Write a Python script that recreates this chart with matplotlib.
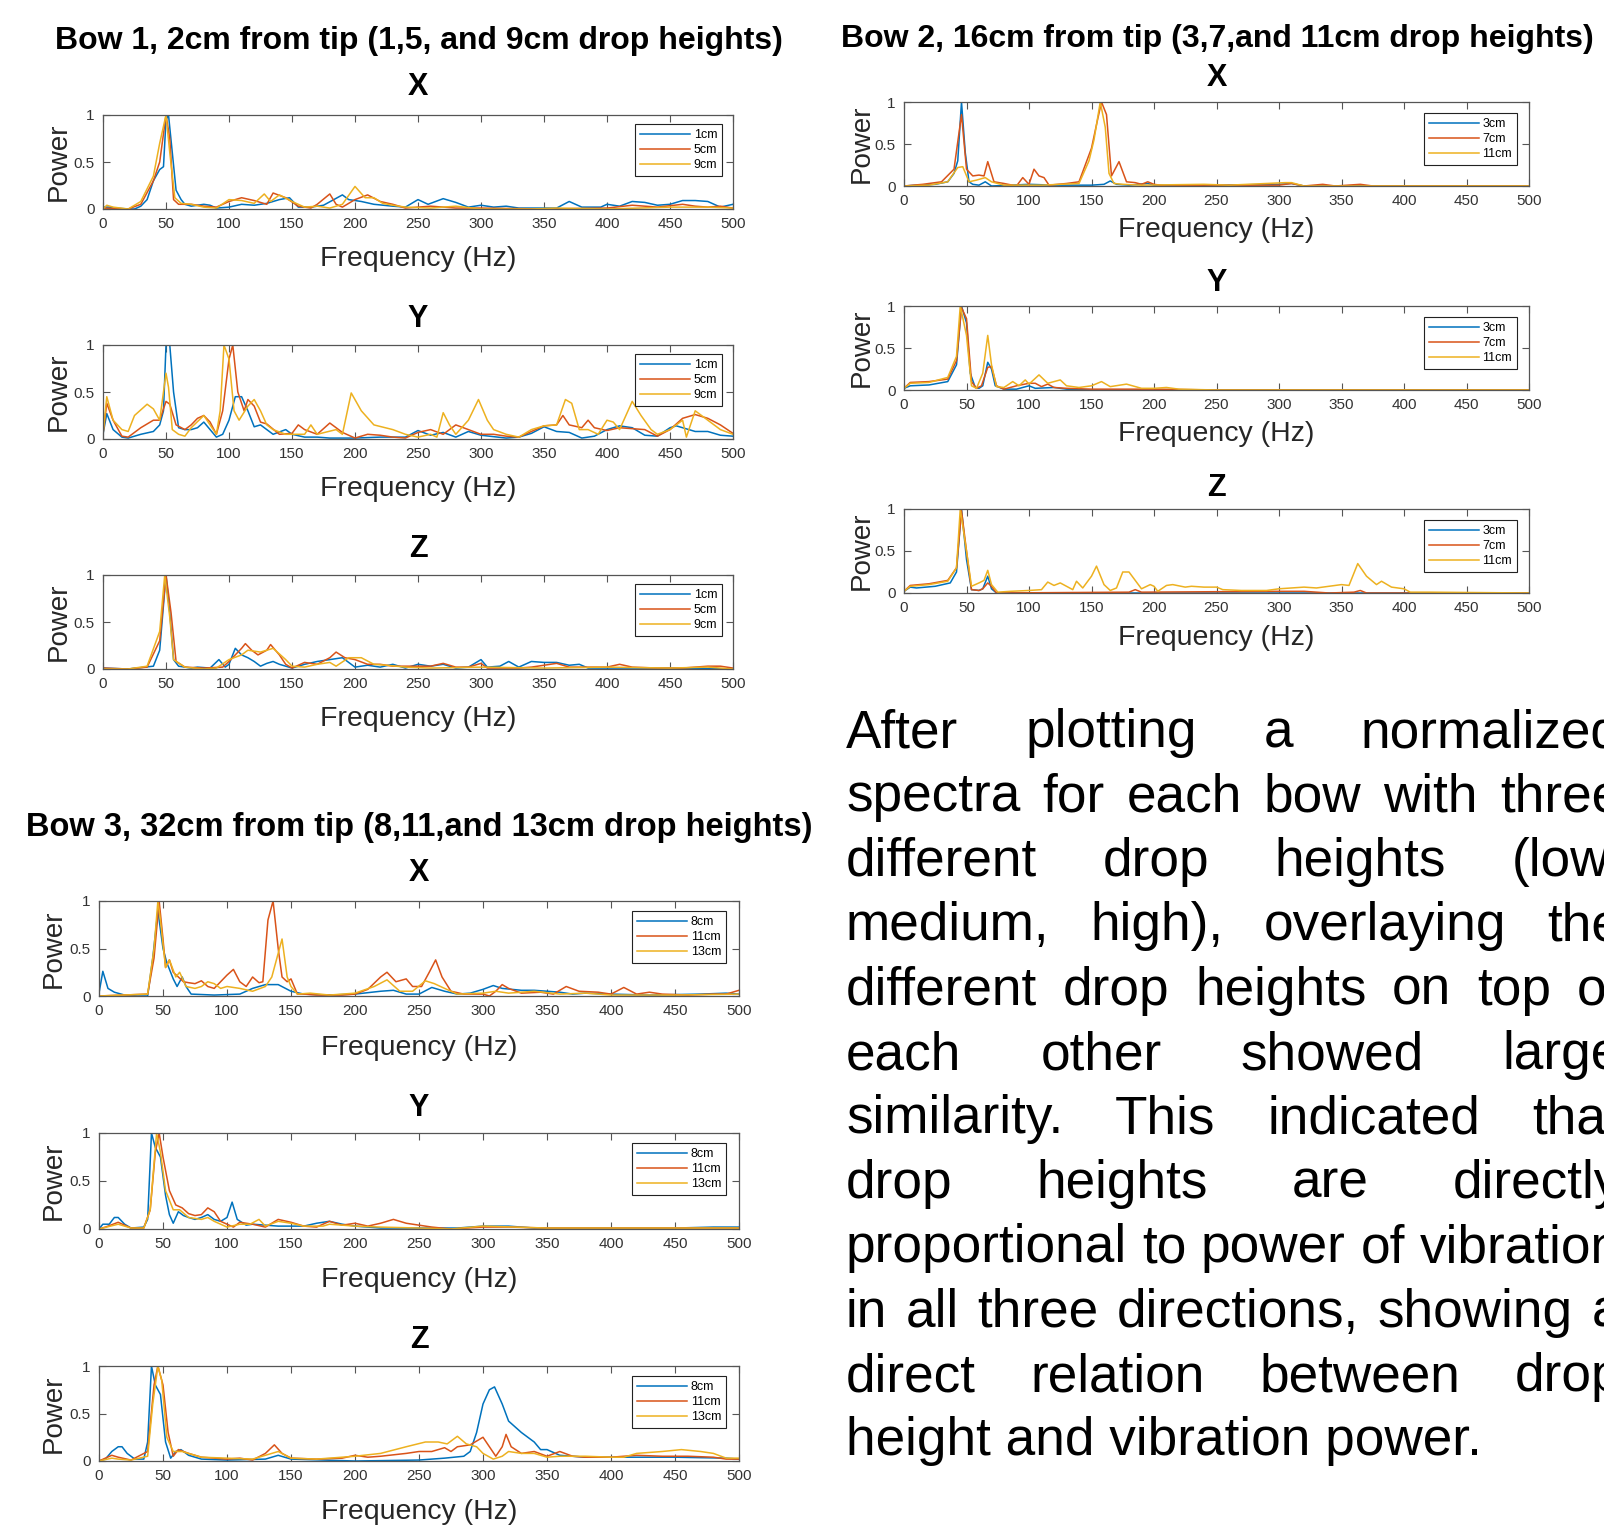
import numpy as np
import matplotlib
matplotlib.use("Agg")
import matplotlib.pyplot as plt

# ---- data: (frequency Hz, normalized power) ----
# Bow 1, 2cm from tip
b1x_1cm = [(0,.02),(5,.02),(10,.01),(20,0),(25,0),(30,.03),(35,.1),(40,.3),(45,.42),(48,.45),(50,.95),(52,1.0),(55,.6),(58,.2),(62,.1),(65,.05),(70,.03),(80,.05),(85,.04),(90,.01),(100,.02),(110,.05),(120,.04),(130,.06),(140,.1),(148,.12),(155,.02),(165,.02),(175,.04),(190,.15),(195,.1),(205,.08),(215,.05),(230,.03),(240,.02),(250,.1),(258,.05),(270,.11),(280,.07),(290,.02),(300,.04),(310,.02),(320,.03),(330,.01),(360,.01),(370,.08),(380,.02),(395,.02),(400,.05),(410,.03),(420,.08),(430,.07),(440,.04),(450,.05),(460,.09),(470,.09),(480,.08),(490,.02),(500,.05)]
b1x_5cm = [(0,.01),(20,0),(30,.05),(40,.3),(45,.5),(48,.8),(50,1.0),(53,.75),(56,.1),(60,.05),(70,.05),(80,.03),(90,.02),(100,.08),(110,.12),(120,.09),(130,.05),(135,.17),(145,.12),(155,.03),(165,.01),(170,.05),(180,.16),(185,.05),(190,.02),(200,.1),(210,.15),(220,.08),(230,.05),(240,.01),(260,.03),(280,.01),(300,.01),(350,0),(400,.01),(420,.04),(440,.02),(460,.05),(470,.03),(480,.02),(490,.03),(500,.01)]
b1x_9cm = [(0,0),(3,.04),(8,.02),(20,0),(30,.08),(40,.35),(45,.7),(50,1.0),(53,.6),(57,.12),(62,.06),(70,.05),(80,.02),(90,.01),(100,.1),(110,.09),(120,.06),(128,.16),(133,.08),(140,.15),(150,.08),(160,.02),(170,.03),(180,.01),(190,.05),(200,.24),(208,.12),(215,.12),(222,.06),(230,.04),(240,.02),(260,.01),(280,.03),(300,0),(340,0),(360,.01),(400,0),(450,.02),(480,.02),(500,.01)]

b1y_1cm = [(0,.05),(3,.27),(8,.1),(15,.02),(20,.01),(30,.05),(40,.08),(45,.15),(48,.3),(50,1.0),(53,1.0),(56,.5),(60,.12),(65,.1),(70,.1),(75,.12),(80,.18),(85,.1),(90,.02),(95,.05),(100,.2),(105,.45),(110,.45),(115,.3),(120,.13),(125,.15),(130,.1),(135,.05),(145,.1),(150,.05),(160,.02),(170,.02),(180,.01),(200,.01),(220,.02),(240,.02),(250,.09),(260,.04),(270,.07),(280,.02),(290,.08),(300,.04),(320,.01),(330,.02),(340,.06),(350,.13),(360,.08),(370,.07),(380,.01),(390,.03),(400,.1),(410,.14),(420,.12),(430,.04),(440,.03),(450,.12),(455,.14),(470,.08),(480,.08),(490,.04),(500,.03)]
b1y_5cm = [(0,.05),(3,.38),(8,.2),(15,.03),(20,.02),(30,.12),(40,.2),(45,.2),(50,.4),(53,.37),(58,.15),(65,.1),(70,.15),(75,.22),(80,.25),(85,.18),(90,.05),(95,.3),(100,.85),(103,1.0),(107,.5),(112,.3),(115,.42),(120,.35),(125,.18),(130,.16),(140,.05),(150,.06),(155,.15),(160,.1),(170,.05),(180,.17),(190,.07),(200,.01),(210,.05),(220,.04),(230,.02),(240,.01),(250,.07),(260,.1),(270,.05),(280,.15),(290,.1),(300,.05),(310,.05),(320,.03),(330,.02),(340,.08),(350,.14),(360,.15),(365,.25),(370,.15),(380,.12),(385,.2),(390,.12),(400,.09),(410,.12),(420,.11),(430,.1),(440,.03),(450,.1),(460,.22),(470,.26),(480,.22),(490,.15),(500,.06)]
b1y_9cm = [(0,.05),(3,.45),(8,.2),(15,.1),(20,.08),(25,.25),(35,.37),(40,.32),(45,.2),(50,.7),(52,.55),(55,.1),(60,.05),(65,.03),(70,.12),(80,.25),(85,.15),(90,.05),(93,.3),(96,1.0),(100,.85),(104,.3),(108,.2),(115,.35),(120,.42),(125,.3),(130,.15),(135,.1),(145,.05),(150,.05),(160,.05),(165,.15),(170,.05),(185,.1),(190,.05),(197,.49),(205,.3),(215,.15),(230,.1),(240,.05),(250,.02),(260,.05),(265,.02),(270,.28),(275,.15),(280,.05),(290,.2),(298,.42),(305,.2),(310,.1),(320,.05),(330,.02),(340,.1),(350,.14),(360,.15),(367,.42),(372,.38),(378,.1),(385,.1),(393,.05),(400,.2),(405,.18),(410,.1),(420,.4),(427,.25),(435,.1),(440,.05),(450,.1),(460,.2),(463,.02),(470,.3),(480,.2),(490,.1),(500,.05)]

b1z_1cm = [(0,.01),(20,0),(40,.03),(45,.2),(50,1.0),(53,.6),(56,.1),(60,.03),(70,.01),(75,.02),(85,.01),(92,.1),(97,.02),(100,.05),(105,.22),(110,.15),(115,.12),(120,.08),(125,.03),(130,.06),(135,.08),(140,.05),(150,.01),(160,.05),(170,.08),(180,.1),(190,.12),(200,.02),(210,.04),(220,.02),(230,.05),(240,.01),(250,.05),(260,.03),(270,.05),(280,.01),(290,.02),(300,.1),(305,.02),(315,.03),(322,.08),(330,.02),(340,.08),(350,.07),(360,.07),(370,.04),(378,.05),(385,.01),(400,.01),(450,.01),(500,0)]
b1z_5cm = [(0,.01),(20,0),(35,.02),(45,.3),(50,1.0),(54,.6),(58,.08),(65,.02),(80,.01),(95,.02),(100,.08),(110,.22),(113,.27),(118,.2),(123,.15),(130,.2),(133,.26),(140,.15),(145,.05),(150,.01),(160,.07),(170,.05),(180,.12),(185,.18),(192,.12),(200,.1),(210,.05),(220,.05),(230,.03),(250,.03),(260,.03),(270,.06),(280,.02),(290,.02),(300,.06),(305,.01),(330,.01),(340,.02),(360,.06),(370,.02),(400,.02),(410,.05),(420,.02),(440,.01),(460,.01),(480,.03),(490,.03),(500,.01)]
b1z_9cm = [(0,0),(20,0),(35,.03),(45,.4),(49,1.0),(53,.55),(56,.1),(65,.02),(80,0),(90,.01),(100,.1),(110,.15),(115,.2),(125,.18),(135,.22),(145,.1),(150,.03),(160,.02),(170,.05),(180,.07),(185,.03),(195,.12),(205,.12),(215,.05),(225,.04),(240,.02),(260,.01),(300,.02),(350,.01),(400,.02),(450,.01),(480,.02),(500,0)]

# Bow 2, 16cm from tip
b2x_3cm = [(0,0),(10,.01),(25,.02),(35,.05),(40,.15),(43,.3),(46,1.0),(49,.4),(52,.05),(55,.02),(60,.01),(65,.05),(68,.02),(70,0),(100,.02),(120,.01),(150,.01),(160,.02),(165,.06),(170,.02),(180,.01),(195,.03),(200,.01),(250,.01),(300,.02),(310,.03),(320,0),(500,0)]
b2x_7cm = [(0,0),(15,.02),(30,.05),(40,.2),(46,.85),(50,.2),(55,.12),(60,.13),(64,.12),(67,.29),(72,.05),(80,.03),(90,0),(95,.1),(100,.02),(104,.2),(108,.12),(112,.1),(116,.01),(130,.03),(140,.05),(150,.45),(155,.8),(158,1.0),(162,.85),(166,.12),(172,.29),(178,.05),(185,.04),(190,.02),(195,.05),(200,.02),(210,0),(240,.01),(300,.01),(310,.03),(320,0),(335,.02),(345,0),(365,.02),(375,0),(500,0)]
b2x_11cm = [(0,0),(20,.01),(35,.05),(43,.22),(47,.23),(52,.05),(58,.07),(65,.1),(70,.05),(80,.01),(110,.01),(140,.03),(148,.3),(152,.55),(157,1.0),(161,.7),(164,.15),(168,.03),(175,.02),(190,.01),(240,.02),(260,.01),(305,.04),(310,.04),(320,0),(500,0)]

b2y_3cm = [(0,.02),(5,.05),(20,.06),(35,.1),(42,.3),(46,1.0),(50,.8),(53,.2),(57,.03),(60,.02),(63,.05),(67,.33),(70,.25),(73,.05),(80,.01),(90,.01),(100,.05),(105,.02),(120,.03),(130,.01),(150,0),(500,0)]
b2y_7cm = [(0,.02),(5,.09),(20,.1),(35,.13),(42,.35),(46,.98),(50,.85),(54,.1),(58,.02),(62,.05),(67,.27),(70,.28),(74,.05),(80,.01),(90,.05),(100,.08),(105,.08),(110,.04),(115,.07),(120,.03),(130,.02),(150,.01),(200,.01),(250,0),(500,0)]
b2y_11cm = [(0,.02),(5,.08),(20,.09),(35,.15),(42,.4),(45,1.0),(50,.65),(54,.05),(58,.02),(63,.2),(67,.65),(70,.3),(74,.04),(80,.03),(87,.1),(92,.05),(97,.12),(100,.07),(108,.18),(115,.08),(125,.12),(130,.05),(140,.03),(150,.05),(158,.1),(165,.04),(178,.07),(190,.02),(200,.02),(210,.03),(220,.01),(250,0),(500,0)]

b2z_3cm = [(0,.02),(5,.07),(10,.06),(25,.08),(37,.12),(42,.25),(46,1.0),(50,.4),(54,.04),(60,.03),(63,.05),(67,.2),(70,.05),(74,0),(500,0)]
b2z_7cm = [(0,.02),(5,.09),(20,.11),(35,.15),(42,.3),(46,.98),(50,.5),(54,.04),(60,.03),(63,.05),(67,.12),(70,.08),(74,0),(180,.01),(185,.04),(190,.01),(300,.02),(320,.02),(340,0),(360,.01),(365,.03),(370,0),(500,0)]
b2z_11cm = [(0,.02),(5,.08),(20,.1),(35,.14),(42,.3),(45,1.0),(50,.5),(54,.08),(60,.12),(64,.15),(67,.27),(70,.1),(75,.01),(85,.02),(100,.03),(110,.04),(115,.13),(120,.09),(125,.12),(130,.08),(135,.04),(138,.14),(143,.06),(150,.2),(154,.32),(160,.1),(165,.03),(170,.06),(175,.25),(180,.25),(185,.15),(190,.05),(197,.1),(200,.08),(203,.02),(210,.09),(215,.1),(225,.07),(230,.08),(240,.07),(250,.07),(255,.04),(270,.03),(290,.03),(300,.05),(310,.06),(320,.07),(330,.06),(340,.08),(350,.1),(356,.09),(363,.35),(370,.2),(378,.1),(382,.14),(390,.07),(400,.05),(405,.01),(420,.01),(500,0)]

# Bow 3, 32cm from tip
b3x_8cm = [(0,.03),(3,.26),(7,.08),(12,.04),(20,.01),(30,0),(38,0),(42,.4),(46,.9),(50,.5),(53,.35),(58,.18),(61,.1),(65,.2),(68,.1),(72,.02),(90,.01),(110,.02),(120,.08),(130,.12),(140,.12),(150,.05),(160,.02),(180,.01),(200,.02),(220,.05),(230,.06),(240,.02),(250,.02),(260,.09),(270,.05),(280,.02),(290,.03),(300,.07),(308,.11),(315,.08),(330,.06),(340,.06),(350,.05),(360,.04),(370,.02),(380,.03),(400,.02),(430,.01),(470,.02),(490,.03),(500,.02)]
b3x_11cm = [(0,0),(38,.02),(43,.4),(47,1.0),(50,.6),(52,.3),(55,.38),(58,.25),(62,.2),(66,.15),(70,.14),(75,.13),(80,.16),(85,.1),(90,.08),(95,.15),(100,.22),(105,.28),(110,.15),(115,.1),(120,.2),(125,.14),(128,.15),(132,.8),(136,1.0),(140,.5),(143,.2),(147,.15),(150,.18),(155,.02),(160,.02),(170,.01),(190,.01),(200,.02),(210,.07),(220,.2),(225,.25),(232,.15),(240,.18),(245,.1),(252,.1),(258,.25),(263,.38),(268,.2),(275,.05),(285,.02),(300,.02),(305,0),(310,.05),(315,.12),(320,.08),(330,.03),(345,.04),(355,.02),(365,.1),(375,.05),(390,.04),(400,.02),(410,.09),(420,.02),(430,.04),(440,.02),(460,.01),(480,.02),(490,.02),(500,.06)]
b3x_13cm = [(0,0),(38,.02),(43,.5),(46,1.0),(48,.8),(52,.3),(55,.38),(60,.2),(63,.25),(68,.1),(75,.08),(80,.1),(85,.15),(90,.13),(95,.08),(100,.1),(110,.08),(120,.05),(130,.1),(135,.2),(140,.45),(143,.6),(147,.2),(150,.1),(155,.02),(165,.03),(180,.01),(200,.03),(215,.1),(225,.17),(235,.05),(245,.05),(255,.16),(262,.13),(270,.08),(280,.02),(300,.03),(310,.05),(320,.03),(340,.05),(360,.02),(380,.03),(400,.01),(450,.01),(500,.02)]

b3y_8cm = [(0,0),(3,.05),(8,.05),(12,.12),(15,.12),(20,.05),(25,.01),(35,.02),(38,.1),(41,1.0),(44,.85),(48,.75),(52,.35),(55,.15),(58,.06),(62,.18),(66,.14),(70,.12),(75,.1),(80,.12),(85,.15),(90,.1),(95,.08),(100,.12),(104,.28),(108,.1),(115,.04),(120,.05),(130,.04),(140,.03),(150,.03),(160,.03),(170,.06),(180,.08),(190,.05),(200,.03),(220,.01),(250,.01),(280,.01),(300,.03),(320,.03),(340,.01),(400,.01),(450,.01),(480,.02),(500,.02)]
b3y_11cm = [(0,0),(5,.02),(15,.07),(25,.01),(35,.01),(40,.2),(44,.8),(47,1.0),(50,.75),(55,.4),(60,.25),(65,.22),(70,.16),(75,.14),(80,.15),(85,.22),(90,.18),(95,.08),(100,.05),(105,.02),(110,.07),(120,.05),(130,.02),(140,.1),(150,.07),(160,.03),(170,.02),(180,.08),(190,.04),(200,.06),(210,.03),(220,.06),(230,.1),(240,.06),(250,.04),(260,.02),(275,0),(300,.02),(320,.02),(350,.01),(400,.01),(450,.01),(500,.01)]
b3y_13cm = [(0,0),(15,.05),(25,.01),(35,.01),(40,.2),(45,1.0),(48,.8),(52,.4),(58,.2),(63,.2),(70,.12),(80,.1),(85,.12),(90,.08),(95,.05),(100,.02),(110,.05),(118,.05),(125,.1),(130,.03),(140,.08),(150,.06),(160,.03),(175,.03),(180,.05),(200,.03),(220,.02),(250,.01),(275,0),(300,.03),(350,.01),(400,.01),(500,.01)]

b3z_8cm = [(0,0),(5,.02),(10,.1),(15,.15),(18,.15),(22,.08),(28,.02),(35,.02),(38,.2),(41,1.0),(44,.8),(48,.7),(52,.2),(56,.03),(60,.1),(64,.12),(70,.06),(80,.02),(100,.01),(130,.02),(140,.06),(150,.02),(200,0),(250,.01),(270,.03),(285,.05),(290,.1),(295,.3),(300,.6),(305,.75),(309,.78),(315,.6),(320,.42),(330,.3),(340,.2),(345,.12),(350,.12),(360,.06),(380,.04),(400,.04),(450,.04),(490,.03),(500,.02)]
b3z_11cm = [(0,0),(10,.06),(15,.04),(25,.01),(38,.1),(43,.8),(46,1.0),(50,.8),(54,.3),(58,.05),(62,.12),(70,.08),(80,.04),(100,.02),(110,.03),(120,.01),(130,.08),(137,.17),(143,.08),(150,.03),(170,.02),(190,.03),(200,.06),(210,.04),(220,.05),(240,.08),(250,.1),(260,.1),(270,.14),(275,.1),(280,.15),(290,.17),(300,.25),(305,.15),(310,.05),(315,.15),(318,.28),(322,.15),(330,.08),(340,.1),(350,.05),(360,.1),(370,.05),(380,.04),(400,.04),(410,.05),(420,.06),(440,.05),(460,.05),(480,.04),(490,.02),(500,.02)]
b3z_13cm = [(0,0),(10,.03),(15,.02),(25,.01),(38,.05),(42,.6),(46,1.0),(49,.85),(53,.25),(58,.1),(65,.1),(80,.04),(100,.03),(120,.02),(140,.1),(150,.03),(170,.02),(200,.05),(220,.08),(240,.15),(255,.2),(265,.2),(272,.18),(280,.26),(287,.18),(295,.15),(300,.08),(308,.02),(315,.05),(320,.1),(330,.08),(340,.08),(350,.04),(360,.05),(370,.05),(380,.05),(400,.04),(410,.04),(420,.08),(440,.1),(455,.12),(470,.1),(480,.08),(490,.03),(500,.03)]

bow1_labels = ['1cm', '5cm', '9cm']
bow2_labels = ['3cm', '7cm', '11cm']
bow3_labels = ['8cm', '11cm', '13cm']
freq_ticks = [0, 50, 100, 150, 200, 250, 300, 350, 400, 450, 500]
power_ticks = [0, 0.5, 1]

bow1_title = 'Bow 1, 2cm from tip (1,5, and 9cm drop heights)'
bow2_title = 'Bow 2, 16cm from tip (3,7,and 11cm drop heights)'
bow3_title = 'Bow 3, 32cm from tip (8,11,and 13cm drop heights)'

paragraph = [
    "After plotting a normalized",
    "spectra for each bow with three",
    "different drop heights (low,",
    "medium, high), overlaying the",
    "different drop heights on top of",
    "each other showed large",
    "similarity. This indicated that",
    "drop heights are directly",
    "proportional to power of vibration",
    "in all three directions, showing a",
    "direct relation between drop",
    "height and vibration power.",
]

# ---- layout (pixels) ----
W, H = 1604, 1527
plt.rcParams['font.family'] = ['Liberation Sans', 'DejaVu Sans']
fig = plt.figure(figsize=(W / 100, H / 100), dpi=100)
fig.patch.set_facecolor('white')
colors = ['#0072BD', '#D95319', '#EDB120']


def fx(x):
    return x / W


def fy(y):
    return 1 - y / H


def panel(box, series, labels, anchor):
    l, r, t, b = box
    ax = fig.add_axes([fx(l), fy(b), (r - l) / W, (b - t) / H])
    for pts, c, lab in zip(series, colors, labels):
        arr = np.array(pts)
        ax.plot(arr[:, 0], arr[:, 1], color=c, lw=1.1, label=lab)
    ax.set_xlim(0, 500)
    ax.set_ylim(0, 1)
    ax.set_xticks(freq_ticks)
    ax.set_yticks(power_ticks)
    ax.set_yticklabels(['0', '0.5', '1'])
    ax.tick_params(direction='in', top=True, right=True, length=5, width=0.8,
                   labelsize=11, colors='#555555', labelcolor='#333333', pad=6)
    for s in ax.spines.values():
        s.set_color('#555555')
        s.set_linewidth(0.9)
    leg = ax.legend(loc='upper right', bbox_to_anchor=anchor, borderaxespad=0,
                    fontsize=9, handlelength=4.0, fancybox=False, framealpha=1,
                    edgecolor='#222222', borderpad=0.4, labelspacing=0.25,
                    handletextpad=0.3)
    leg.get_frame().set_linewidth(0.8)
    return ax


bow1_boxes = [(103, 733, 115, 209), (103, 733, 345, 439), (103, 733, 575, 669)]
bow1_data = [[b1x_1cm, b1x_5cm, b1x_9cm], [b1y_1cm, b1y_5cm, b1y_9cm], [b1z_1cm, b1z_5cm, b1z_9cm]]
bow2_boxes = [(904, 1529, 102, 186), (904, 1529, 306, 390), (904, 1529, 509, 593)]
bow2_data = [[b2x_3cm, b2x_7cm, b2x_11cm], [b2y_3cm, b2y_7cm, b2y_11cm], [b2z_3cm, b2z_7cm, b2z_11cm]]
bow3_boxes = [(99, 739, 901, 996), (99, 739, 1133, 1229), (99, 739, 1366, 1461)]
bow3_data = [[b3x_8cm, b3x_11cm, b3x_13cm], [b3y_8cm, b3y_11cm, b3y_13cm], [b3z_8cm, b3z_11cm, b3z_13cm]]

groups = [
    (bow1_title, (419, 41), 23, bow1_boxes, bow1_data, bow1_labels, [87, 319, 549], [259, 489, 719], 59, (0.983, 0.905)),
    (bow2_title, (1217, 39), 23, bow2_boxes, bow2_data, bow2_labels, [78, 283, 488], [230, 434, 638], 862, (0.981, 0.87)),
    (bow3_title, (419, 827), 23.5, bow3_boxes, bow3_data, bow3_labels, [873, 1108, 1340], [1048, 1280, 1512], 54, (0.98, 0.895)),
]

for title, tpos, tsize, boxes, data, labels, letter_ys, freq_ys, pwr_x, anchor in groups:
    fig.text(fx(tpos[0]), fy(tpos[1]), title, fontsize=tsize, fontweight='bold',
             ha='center', va='center')
    for i, (box, series) in enumerate(zip(boxes, data)):
        panel(box, series, labels, anchor)
        cx = (box[0] + box[1]) / 2
        fig.text(fx(cx), fy(letter_ys[i]), 'XYZ'[i], fontsize=22, fontweight='bold',
                 ha='center', va='center')
        fig.text(fx(cx), fy(freq_ys[i]), 'Frequency (Hz)', fontsize=20.5,
                 color='#262626', ha='center', va='center')
        fig.text(fx(pwr_x), fy((box[2] + box[3]) / 2), 'Power', fontsize=20,
                 color='#262626', rotation=90, ha='center', va='center')

# ---- justified paragraph on the right (runs past the right edge, as in the source) ----
renderer = fig.canvas.get_renderer()


def text_width(s, size):
    t = fig.text(0, 0, s, fontsize=size)
    w = t.get_window_extent(renderer).width
    t.remove()
    return w


x0 = 846
para_size = 38 * 635 / text_width(paragraph[-1], 38)
x_right = x0 + text_width(paragraph[8], para_size)
base_y = 747
line_gap = 64.4
for i, line in enumerate(paragraph):
    y = base_y + i * line_gap
    words = line.split(' ')
    if i == len(paragraph) - 1 or len(words) == 1:
        fig.text(fx(x0), fy(y), line, fontsize=para_size, ha='left', va='baseline')
        continue
    widths = [text_width(w, para_size) for w in words]
    gap = (x_right - x0 - sum(widths)) / (len(words) - 1)
    x = x0
    for w, wd in zip(words, widths):
        fig.text(fx(x), fy(y), w, fontsize=para_size, ha='left', va='baseline')
        x += wd + gap

fig.savefig('out.png', dpi=100, facecolor='white')
